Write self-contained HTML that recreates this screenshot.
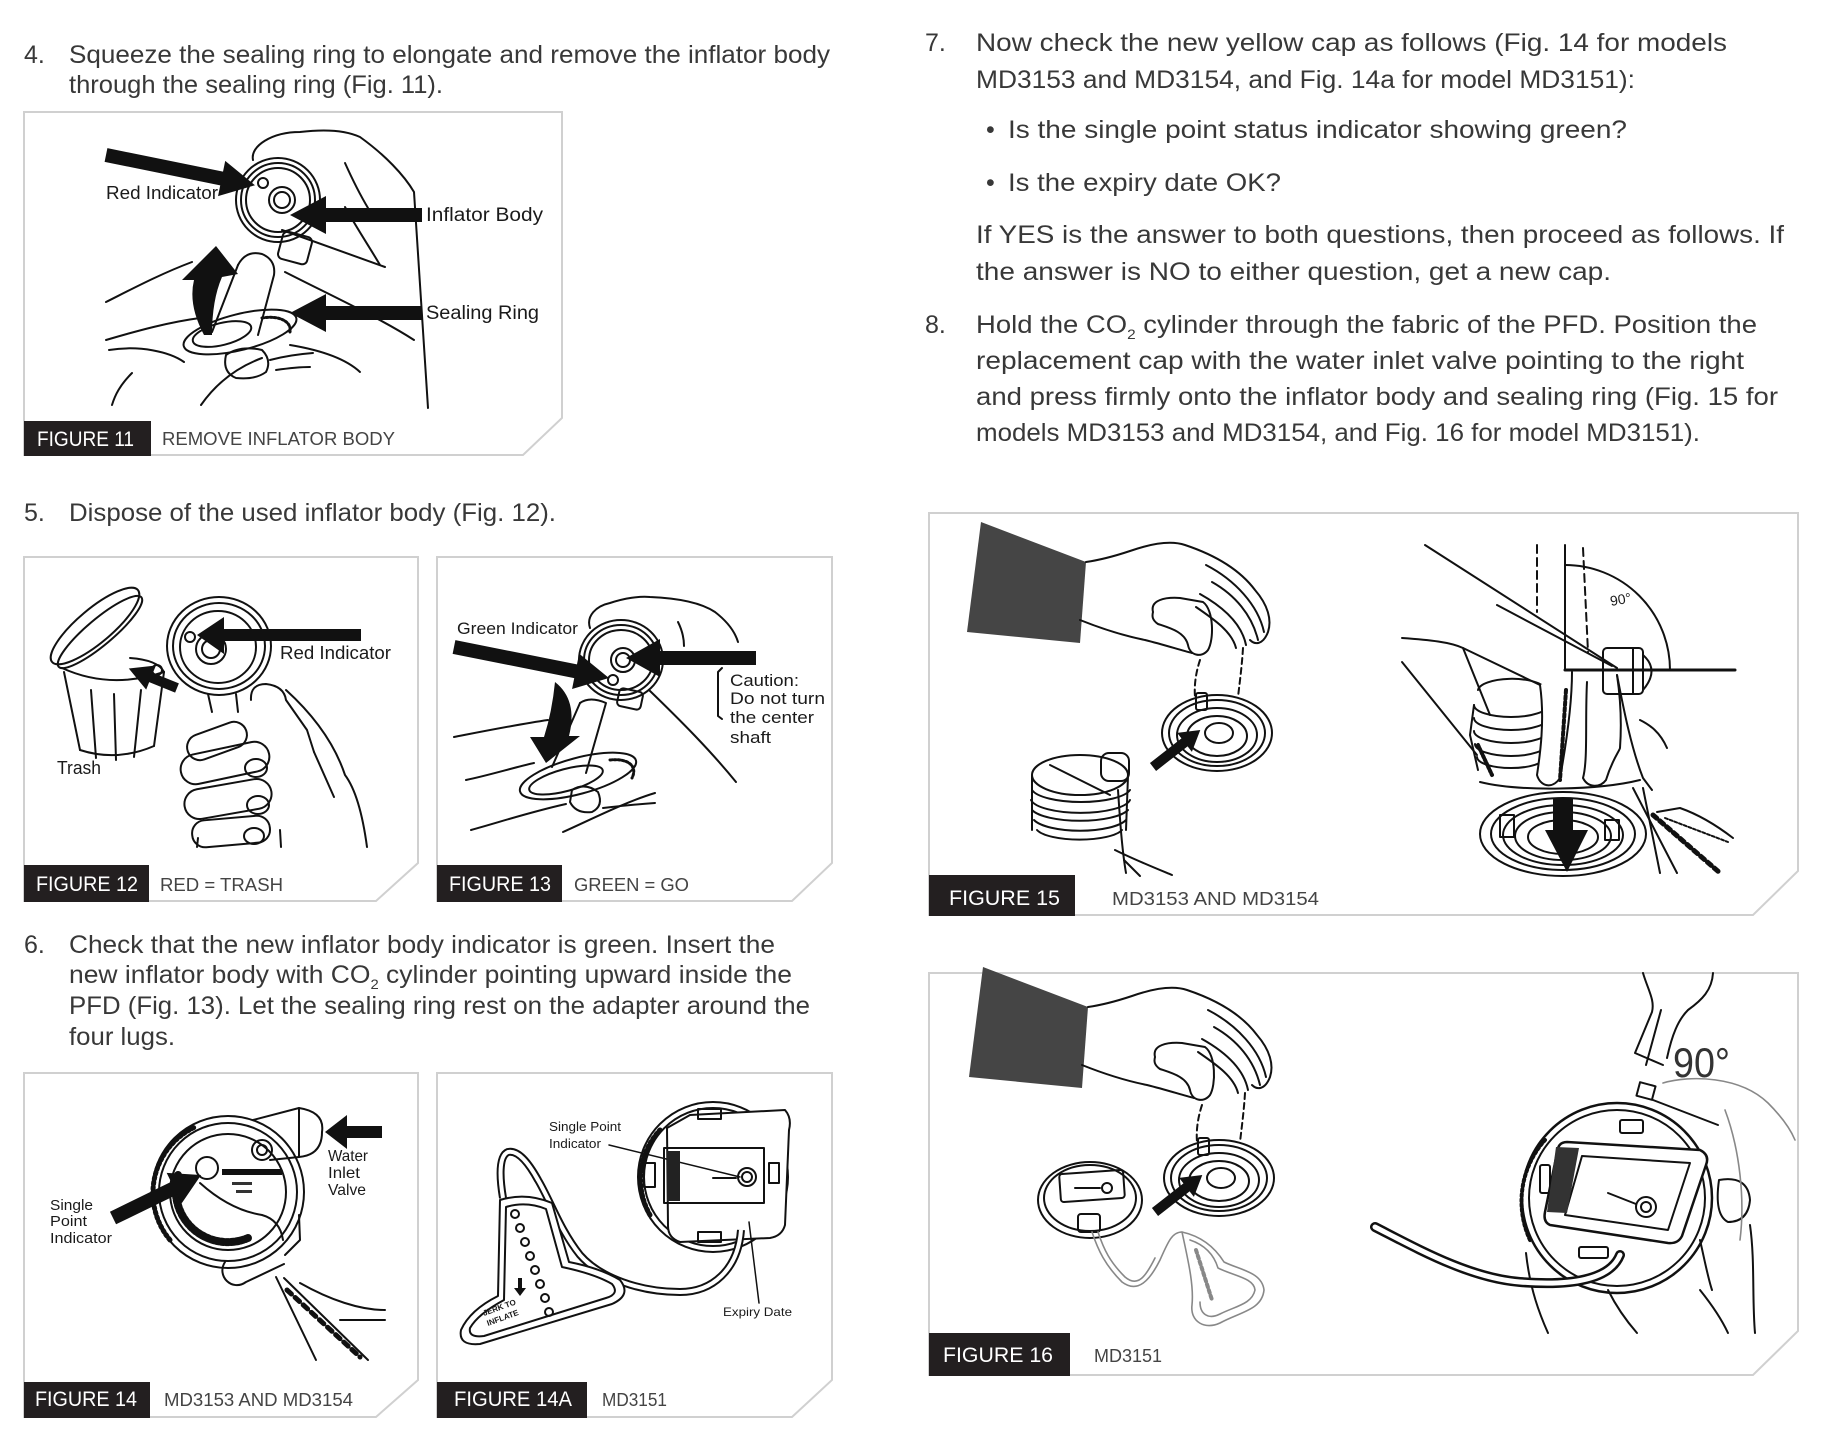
<!DOCTYPE html>
<html><head><meta charset="utf-8">
<style>
html,body{margin:0;padding:0;background:#fff;}
svg{display:block;}
.t{font-family:"Liberation Sans",sans-serif;fill:#383838;font-size:25px;}
.lb{font-family:"Liberation Sans",sans-serif;fill:#1a1a1a;}
.cap{font-family:"Liberation Sans",sans-serif;fill:#fff;font-size:21px;}
.cpt{font-family:"Liberation Sans",sans-serif;fill:#444;font-size:18px;}
.fr{fill:#fff;stroke:#d0d0d0;stroke-width:2;}
.ln{fill:none;stroke:#111;stroke-width:2;stroke-linecap:round;stroke-linejoin:round;}
.gl{fill:none;stroke:#888;stroke-width:1.6;stroke-linecap:round;stroke-linejoin:round;}
.ar{fill:#111;stroke:none;}
</style></head><body>
<svg width="1833" height="1438" viewBox="0 0 1833 1438" xmlns="http://www.w3.org/2000/svg">
<rect width="1833" height="1438" fill="#fff"/>

<!-- ================= LEFT COLUMN TEXT ================= -->
<text class="t" x="24" y="63">4.</text>
<text class="t" x="69" y="63" textLength="761" lengthAdjust="spacingAndGlyphs">Squeeze the sealing ring to elongate and remove the inflator body</text>
<text class="t" x="69" y="93" textLength="374" lengthAdjust="spacingAndGlyphs">through the sealing ring (Fig. 11).</text>

<text class="t" x="24" y="521">5.</text>
<text class="t" x="69" y="521" textLength="487" lengthAdjust="spacingAndGlyphs">Dispose of the used inflator body (Fig. 12).</text>

<text class="t" x="24" y="953">6.</text>
<text class="t" x="69" y="953" textLength="706" lengthAdjust="spacingAndGlyphs">Check that the new inflator body indicator is green. Insert the</text>
<text class="t" x="69" y="983" textLength="723" lengthAdjust="spacingAndGlyphs">new inflator body with CO<tspan font-size="14" dy="6">2</tspan><tspan dy="-6"> cylinder pointing upward inside the</tspan></text>
<text class="t" x="69" y="1014" textLength="741" lengthAdjust="spacingAndGlyphs">PFD (Fig. 13). Let the sealing ring rest on the adapter around the</text>
<text class="t" x="69" y="1045" textLength="106" lengthAdjust="spacingAndGlyphs">four lugs.</text>

<!-- ================= RIGHT COLUMN TEXT ================= -->
<text class="t" x="925" y="51">7.</text>
<text class="t" x="976" y="51" textLength="751" lengthAdjust="spacingAndGlyphs">Now check the new yellow cap as follows (Fig. 14 for models</text>
<text class="t" x="976" y="88" textLength="659" lengthAdjust="spacingAndGlyphs">MD3153 and MD3154, and Fig. 14a for model MD3151):</text>
<text class="t" x="986" y="138">•</text>
<text class="t" x="1008" y="138" textLength="619" lengthAdjust="spacingAndGlyphs">Is the single point status indicator showing green?</text>
<text class="t" x="986" y="191">•</text>
<text class="t" x="1008" y="191" textLength="273" lengthAdjust="spacingAndGlyphs">Is the expiry date OK?</text>
<text class="t" x="976" y="243" textLength="808" lengthAdjust="spacingAndGlyphs">If YES is the answer to both questions, then proceed as follows. If</text>
<text class="t" x="976" y="280" textLength="635" lengthAdjust="spacingAndGlyphs">the answer is NO to either question, get a new cap.</text>
<text class="t" x="925" y="333">8.</text>
<text class="t" x="976" y="333" textLength="781" lengthAdjust="spacingAndGlyphs">Hold the CO<tspan font-size="14" dy="6">2</tspan><tspan dy="-6"> cylinder through the fabric of the PFD. Position the</tspan></text>
<text class="t" x="976" y="369" textLength="768" lengthAdjust="spacingAndGlyphs">replacement cap with the water inlet valve pointing to the right</text>
<text class="t" x="976" y="405" textLength="802" lengthAdjust="spacingAndGlyphs">and press firmly onto the inflator body and sealing ring (Fig. 15 for</text>
<text class="t" x="976" y="441" textLength="724" lengthAdjust="spacingAndGlyphs">models MD3153 and MD3154, and Fig. 16 for model MD3151).</text>

<!-- ================= FRAMES ================= -->
<polygon class="fr" points="24,112 562,112 562,418 523,455 24,455"/>
<polygon class="fr" points="24,557 418,557 418,863 376,901 24,901"/>
<polygon class="fr" points="437,557 832,557 832,863 792,901 437,901"/>
<polygon class="fr" points="24,1073 418,1073 418,1380 376,1417 24,1417"/>
<polygon class="fr" points="437,1073 832,1073 832,1380 792,1417 437,1417"/>
<polygon class="fr" points="929,513 1798,513 1798,871 1753,915 929,915"/>
<polygon class="fr" points="929,973 1798,973 1798,1331 1753,1375 929,1375"/>

<!-- ================= LABEL BOXES ================= -->
<rect x="24" y="421" width="127" height="35" fill="#231f20"/>
<text class="cap" x="37" y="446" textLength="97" lengthAdjust="spacingAndGlyphs">FIGURE 11</text>
<text class="cpt" x="162" y="445" textLength="233" lengthAdjust="spacingAndGlyphs">REMOVE INFLATOR BODY</text>

<rect x="24" y="865" width="125" height="37" fill="#231f20"/>
<text class="cap" x="36" y="891" textLength="102" lengthAdjust="spacingAndGlyphs">FIGURE 12</text>
<text class="cpt" x="160" y="891" textLength="123" lengthAdjust="spacingAndGlyphs">RED = TRASH</text>

<rect x="437" y="865" width="125" height="37" fill="#231f20"/>
<text class="cap" x="449" y="891" textLength="102" lengthAdjust="spacingAndGlyphs">FIGURE 13</text>
<text class="cpt" x="574" y="891" textLength="115" lengthAdjust="spacingAndGlyphs">GREEN = GO</text>

<rect x="24" y="1382" width="126" height="36" fill="#231f20"/>
<text class="cap" x="35" y="1406" textLength="102" lengthAdjust="spacingAndGlyphs">FIGURE 14</text>
<text class="cpt" x="164" y="1406" textLength="189" lengthAdjust="spacingAndGlyphs">MD3153 AND MD3154</text>

<rect x="437" y="1382" width="150" height="36" fill="#231f20"/>
<text class="cap" x="454" y="1406" textLength="118" lengthAdjust="spacingAndGlyphs">FIGURE 14A</text>
<text class="cpt" x="602" y="1406" textLength="65" lengthAdjust="spacingAndGlyphs">MD3151</text>

<rect x="929" y="875" width="146" height="41" fill="#231f20"/>
<text class="cap" x="949" y="905" font-size="23" textLength="111" lengthAdjust="spacingAndGlyphs">FIGURE 15</text>
<text class="cpt" x="1112" y="905" font-size="21" fill="#555" textLength="207" lengthAdjust="spacingAndGlyphs">MD3153 AND MD3154</text>

<rect x="929" y="1333" width="141" height="43" fill="#231f20"/>
<text class="cap" x="943" y="1362" font-size="23" textLength="110" lengthAdjust="spacingAndGlyphs">FIGURE 16</text>
<text class="cpt" x="1094" y="1362" font-size="21" fill="#555" textLength="68" lengthAdjust="spacingAndGlyphs">MD3151</text>

<!-- ================= FIGURE 11 ================= -->
<g class="ln">
  <path d="M253,160 C250,146 272,132 300,132 C325,129 345,130 360,137 C385,155 404,175 414,192 L428,408"/>
  <path d="M345,163 C354,183 362,198 368,208"/>
  <path d="M345,207 C358,230 370,248 380,265"/>
  <path d="M282,230 L385,267"/>
  <path d="M285,272 C330,295 380,318 414,340"/>
  <circle cx="278" cy="200" r="42"/>
  <circle cx="278" cy="200" r="37"/>
  <circle cx="278" cy="200" r="32"/>
  <circle cx="282" cy="200" r="13"/>
  <circle cx="282" cy="200" r="8"/>
  <circle cx="263" cy="183" r="5"/>
  <rect x="280" y="234" width="30" height="28" rx="5" transform="rotate(15 295 248)"/>
  <path d="M238,265 Q246,250 262,254 Q276,260 274,275 L258,335"/>
  <path d="M238,265 L212,332"/>
  <path d="M106,302 C130,290 160,274 192,262"/>
  <path d="M106,340 C140,330 170,322 200,318"/>
  <ellipse cx="240" cy="332" rx="58" ry="18" transform="rotate(-14 240 332)"/>
  <ellipse cx="222" cy="334" rx="30" ry="11" transform="rotate(-14 222 334)"/>
  <path d="M262,318 C280,315 292,322 290,332" stroke-dasharray="2 2" stroke-width="3"/>
  <path d="M226,355 Q240,345 262,350 Q272,360 266,372 Q255,380 236,378 Q222,372 226,355 Z"/>
  <path d="M109,350 C140,345 170,352 184,362"/>
  <path d="M132,373 C120,385 115,395 112,405"/>
  <path d="M201,405 C215,385 235,368 262,358"/>
  <path d="M270,360 C285,356 300,354 313,353"/>
  <path d="M276,370 C290,368 300,367 310,367"/>
  <path d="M290,345 C320,350 345,358 360,372"/>
</g>
<polygon class="ar" points="0,-7 118,-7 118,-18 152,0 118,18 118,7 0,7" transform="translate(106,155) rotate(11.5)"/>
<polygon class="ar" points="290,215 326,196 326,208 422,208 422,222 326,222 326,234"/>
<polygon class="ar" points="290,313 326,294 326,306 422,306 422,320 326,320 326,332"/>
<path class="ar" d="M204,335 Q188,305 194,280 L182,280 L216,246 L238,274 L222,277 Q212,300 212,335 Z"/>
<text class="lb" x="106" y="199" font-size="18" textLength="112" lengthAdjust="spacingAndGlyphs">Red Indicator</text>
<text class="lb" x="426" y="221" font-size="19" textLength="117" lengthAdjust="spacingAndGlyphs">Inflator Body</text>
<text class="lb" x="426" y="319" font-size="19" textLength="113" lengthAdjust="spacingAndGlyphs">Sealing Ring</text>

<!-- ================= FIGURE 12 ================= -->
<g class="ln">
  <ellipse cx="95" cy="626" rx="56" ry="17" transform="rotate(-40 95 626)"/>
  <ellipse cx="100" cy="632" rx="54" ry="13" transform="rotate(-40 100 632)"/>
  <path d="M62,668 Q110,690 164,672"/>
  <path d="M130,658 Q158,660 164,672"/>
  <path d="M64,672 L80,750"/>
  <path d="M164,672 L154,746"/>
  <path d="M80,750 Q117,762 154,746"/>
  <path d="M91,690 L96,758"/>
  <path d="M114,694 L116,760"/>
  <path d="M141,690 L134,757"/>
  <circle cx="157" cy="670" r="5"/>
  <ellipse cx="219" cy="646" rx="52" ry="49"/>
  <ellipse cx="219" cy="646" rx="46" ry="43"/>
  <ellipse cx="218" cy="647" rx="38" ry="36"/>
  <circle cx="211" cy="649" r="15"/>
  <circle cx="211" cy="649" r="9"/>
  <circle cx="190" cy="637" r="5"/>
  <path d="M208,694 L212,712"/>
  <path d="M236,694 L238,712"/>
  <path d="M251,700 Q250,684 266,684 Q284,686 286,700 L307,730 L314,752"/>
  <path d="M314,752 L334,797"/>
  <path d="M286,690 Q330,730 345,775 Q360,795 367,847"/>
  <rect x="186" y="728" width="62" height="26" rx="13" transform="rotate(-20 217 741)"/>
  <rect x="180" y="748" width="90" height="30" rx="15" transform="rotate(-12 225 763)"/>
  <rect x="184" y="784" width="88" height="30" rx="15" transform="rotate(-10 228 799)"/>
  <rect x="192" y="818" width="78" height="27" rx="13" transform="rotate(-5 231 831)"/>
  <ellipse cx="256" cy="768" rx="11" ry="9"/>
  <ellipse cx="258" cy="805" rx="11" ry="9"/>
  <ellipse cx="254" cy="836" rx="10" ry="8"/>
  <path d="M197,847 L198,838"/>
  <path d="M281,847 L280,830"/>
</g>
<polygon class="ar" points="197,635 224,617 224,629 361,629 361,641 224,641 224,654"/>
<polygon class="ar" points="0,-5 28,-5 28,-13 52,0 28,13 28,5 0,5" transform="translate(177,688) rotate(202)"/>
<text class="lb" x="280" y="659" font-size="18" textLength="111" lengthAdjust="spacingAndGlyphs">Red Indicator</text>
<text class="lb" x="57" y="774" font-size="18" textLength="44" lengthAdjust="spacingAndGlyphs">Trash</text>

<!-- ================= FIGURE 13 ================= -->
<g class="ln">
  <path d="M590,628 C586,616 596,606 610,603 C625,598 640,596 650,597 C675,598 700,602 715,612 C728,622 735,632 738,642"/>
  <path d="M678,622 C682,630 684,638 684,646"/>
  <ellipse cx="621" cy="660" rx="42" ry="40"/>
  <ellipse cx="621" cy="660" rx="37" ry="35"/>
  <ellipse cx="621" cy="660" rx="32" ry="30"/>
  <circle cx="623" cy="660" r="12"/>
  <circle cx="623" cy="660" r="7"/>
  <circle cx="613" cy="680" r="5"/>
  <rect x="618" y="690" width="24" height="18" rx="4" transform="rotate(12 630 699)"/>
  <path d="M580,703 Q590,696 606,703 L586,773"/>
  <path d="M580,703 L552,767"/>
  <ellipse cx="578" cy="776" rx="60" ry="18" transform="rotate(-15 578 776)"/>
  <ellipse cx="566" cy="780" rx="38" ry="11" transform="rotate(-15 566 780)"/>
  <path d="M610,760 C628,758 638,766 632,778" stroke-dasharray="2 2" stroke-width="3"/>
  <path d="M466,780 C490,775 512,768 534,763"/>
  <path d="M454,737 C490,730 520,724 548,720"/>
  <path d="M649,690 C680,720 710,750 736,782"/>
  <path d="M572,790 Q585,782 598,792 Q604,806 592,812 Q576,814 570,802 Z"/>
  <path d="M471,830 C500,822 530,812 566,804"/>
  <path d="M603,808 C620,806 640,804 655,803"/>
  <path d="M563,832 C590,820 625,802 655,793"/>
  <path d="M722,668 L718,672 L718,716 L722,719"/>
</g>
<polygon class="ar" points="0,-7 124,-7 124,-18 158,0 124,18 124,7 0,7" transform="translate(454,647) rotate(11.3)"/>
<polygon class="ar" points="626,658 660,639 660,651 756,651 756,665 660,665 660,677"/>
<path class="ar" d="M555,682 Q578,700 569,736 L580,736 L546,763 L530,737 L544,737 Q552,712 555,682 Z"/>
<text class="lb" x="457" y="634" font-size="17" textLength="121" lengthAdjust="spacingAndGlyphs">Green Indicator</text>
<text class="lb" x="730" y="686" font-size="17" textLength="69" lengthAdjust="spacingAndGlyphs">Caution:</text>
<text class="lb" x="730" y="704" font-size="17" textLength="95" lengthAdjust="spacingAndGlyphs">Do not turn</text>
<text class="lb" x="730" y="723" font-size="17" textLength="84" lengthAdjust="spacingAndGlyphs">the center</text>
<text class="lb" x="730" y="743" font-size="17" textLength="41" lengthAdjust="spacingAndGlyphs">shaft</text>

<!-- ================= FIGURE 14 ================= -->
<g class="ln">
  <circle cx="228" cy="1192" r="76"/>
  <circle cx="228" cy="1192" r="69"/>
  <path d="M170,1240 A73,73 0 0 1 195,1127" stroke-width="5" stroke-dasharray="2 3"/>
  <circle cx="228" cy="1192" r="58"/>
  <path d="M178,1175 A52,52 0 0 0 248,1238" stroke-width="8" stroke-dasharray="3 2"/>
  <circle cx="207" cy="1168" r="11"/>
  <path d="M200,1183 Q230,1210 262,1215 Q280,1220 283,1240"/>
  <path d="M253,1120 L299,1108 L299,1157 L270,1160"/>
  <path d="M299,1108 Q325,1112 322,1132 Q322,1155 299,1157"/>
  <circle cx="262" cy="1150" r="10"/>
  <circle cx="262" cy="1150" r="5"/>
  <path d="M299,1215 L300,1240 L285,1255"/>
  <path d="M225,1262 C216,1276 232,1292 246,1282 L284,1264"/>
  <path d="M276,1277 L316,1360"/>
  <path d="M284,1278 L368,1360"/>
  <path d="M287,1290 L360,1357" stroke-width="5" stroke-dasharray="6 5"/>
  <path d="M300,1283 C330,1300 360,1310 385,1310"/>
  <path d="M340,1320 L385,1320"/>
</g>
<rect x="222" y="1169" width="60" height="6" fill="#111"/>
<rect x="232" y="1182" width="20" height="3" fill="#333"/>
<rect x="236" y="1190" width="16" height="3" fill="#333"/>
<polygon class="ar" points="325,1132 347,1115 347,1126 382,1126 382,1138 347,1138 347,1149"/>
<polygon class="ar" points="0,-7 68,-7 68,-17 98,0 68,17 68,7 0,7" transform="translate(113,1218) rotate(-26)"/>
<text class="lb" x="328" y="1161" font-size="16" textLength="40" lengthAdjust="spacingAndGlyphs">Water</text>
<text class="lb" x="328" y="1178" font-size="16" textLength="32" lengthAdjust="spacingAndGlyphs">Inlet</text>
<text class="lb" x="328" y="1195" font-size="16" textLength="38" lengthAdjust="spacingAndGlyphs">Valve</text>
<text class="lb" x="50" y="1210" font-size="15" textLength="43" lengthAdjust="spacingAndGlyphs">Single</text>
<text class="lb" x="50" y="1226" font-size="15" textLength="37" lengthAdjust="spacingAndGlyphs">Point</text>
<text class="lb" x="50" y="1243" font-size="15" textLength="62" lengthAdjust="spacingAndGlyphs">Indicator</text>

<!-- ================= FIGURE 14A ================= -->
<g class="ln">
  <circle cx="713" cy="1177" r="75"/>
  <circle cx="713" cy="1177" r="69"/>
  <path d="M650,1215 A72,72 0 0 1 660,1130" stroke-width="5" stroke-dasharray="2 3"/>
  <path d="M667,1128 L690,1115 L785,1110 Q792,1118 789,1130 L785,1225 Q782,1236 770,1238 L680,1242 Q668,1238 668,1226 Z" fill="#fff"/>
  <rect x="664" y="1148" width="100" height="55"/>
  <circle cx="747" cy="1177" r="9"/>
  <circle cx="747" cy="1177" r="5"/>
  <path d="M713,1178 L736,1178"/>
  <rect x="698" y="1109" width="23" height="10"/>
  <rect x="698" y="1232" width="23" height="10"/>
  <rect x="644" y="1163" width="11" height="24"/>
  <rect x="769" y="1163" width="10" height="20"/>
  <path d="M609,1145 L740,1177" stroke-width="1.5"/>
  <path d="M759,1303 L749,1222" stroke-width="1.5"/>
</g>
<rect x="667" y="1151" width="13" height="50" fill="#222"/>
<path d="M741,1230 C738,1270 712,1292 680,1292 C640,1292 600,1278 580,1255 C560,1230 550,1200 538,1180 C528,1162 518,1150 508,1152 C498,1156 500,1180 503,1198" fill="none" stroke="#111" stroke-width="8"/>
<path d="M741,1230 C738,1270 712,1292 680,1292 C640,1292 600,1278 580,1255 C560,1230 550,1200 538,1180 C528,1162 518,1150 508,1152 C498,1156 500,1180 503,1198" fill="none" stroke="#fff" stroke-width="4"/>
<g class="ln">
  <path d="M500,1200 Q526,1192 552,1203 L569,1262 Q600,1268 620,1280 Q632,1295 612,1304 L480,1344 Q458,1346 461,1330 Q470,1310 498,1296 Z" fill="#fff"/>
  <path d="M506,1207 Q526,1201 546,1209 L562,1267 Q595,1274 612,1284 Q620,1294 606,1298 L484,1336 Q468,1338 470,1328 Q478,1314 504,1300 Z"/>
  <circle cx="515" cy="1214" r="4"/><circle cx="520" cy="1228" r="4"/>
  <circle cx="525" cy="1242" r="4"/><circle cx="530" cy="1256" r="4"/>
  <circle cx="535" cy="1270" r="4"/><circle cx="540" cy="1284" r="4"/>
  <circle cx="545" cy="1298" r="4"/><circle cx="549" cy="1312" r="4"/>
</g>
<path class="ar" d="M518,1278 L522,1278 L522,1288 L526,1288 L520,1296 L514,1288 L518,1288 Z"/>
<text class="lb" x="484" y="1316" font-size="8" font-weight="bold" transform="rotate(-20 484 1316)">JERK TO</text>
<text class="lb" x="488" y="1326" font-size="8" font-weight="bold" transform="rotate(-20 488 1326)">INFLATE</text>
<text class="lb" x="549" y="1131" font-size="13" textLength="72" lengthAdjust="spacingAndGlyphs">Single Point</text>
<text class="lb" x="549" y="1148" font-size="13" textLength="52" lengthAdjust="spacingAndGlyphs">Indicator</text>
<text class="lb" x="723" y="1316" font-size="12" textLength="69" lengthAdjust="spacingAndGlyphs">Expiry Date</text>

<!-- ================= FIGURE 15 ================= -->
<g id="h15">
  <polygon points="981,522 1086,562 1080,643 967,632" fill="#454545"/>
  <g class="ln">
    <path d="M1086,562 C1100,560 1112,557 1130,551 C1150,544 1170,540 1185,545 C1215,555 1240,570 1255,590 C1268,605 1272,620 1268,632 C1263,645 1255,645 1250,640"/>
    <path d="M1206,565 C1235,580 1258,605 1264,632"/>
    <path d="M1212,582 C1235,595 1252,615 1258,640"/>
    <path d="M1200,594 C1225,608 1242,625 1246,645"/>
    <path d="M1196,607 C1215,620 1232,632 1236,648"/>
    <path d="M1080,620 C1100,628 1120,635 1145,640 C1165,645 1180,650 1192,653"/>
    <path d="M1153,612 C1150,600 1165,597 1180,598 L1203,602 C1214,610 1214,640 1208,650 C1202,658 1190,656 1188,645 C1185,632 1170,628 1158,624 C1152,620 1152,616 1153,612 Z"/>
    <path d="M1200,660 C1196,672 1194,685 1195,697" stroke-dasharray="6 4"/>
    <path d="M1243,648 C1242,665 1240,680 1238,697" stroke-dasharray="6 4"/>
    <ellipse cx="1217" cy="733" rx="55" ry="38"/>
    <ellipse cx="1217" cy="733" rx="48" ry="33"/>
    <ellipse cx="1217" cy="735" rx="40" ry="27"/>
    <ellipse cx="1217" cy="736" rx="30" ry="20"/>
    <ellipse cx="1219" cy="733" rx="14" ry="10"/>
    <rect x="1196" y="693" width="11" height="17" rx="2"/>
  </g>
  <polygon class="ar" points="0,-5 40,-5 40,-12 60,0 40,12 40,5 0,5" transform="translate(1153,767) rotate(-38)"/>
</g>
<g class="ln">
  <ellipse cx="1080" cy="775" rx="48" ry="20"/>
  <path d="M1032,790 A50,15 0 0 0 1130,790"/>
  <path d="M1031,800 A50,15 0 0 0 1130,800"/>
  <path d="M1032,810 A50,15 0 0 0 1128,810"/>
  <path d="M1034,820 A48,15 0 0 0 1126,820"/>
  <path d="M1037,830 A44,13 0 0 0 1122,830"/>
  <path d="M1032,776 L1032,830"/>
  <path d="M1128,776 L1126,830"/>
  <rect x="1101" y="753" width="28" height="28" rx="8"/>
  <path d="M1050,765 L1110,795" />
  <path d="M1118,790 C1120,820 1122,850 1126,873"/>
  <path d="M1115,850 C1135,860 1160,870 1172,875"/>
  <path d="M1124,860 L1140,876"/>
  <!-- right part -->
  <path d="M1425,545 L1617,668"/>
  <path d="M1497,605 L1612,666"/>
  <path d="M1565,545 L1565,670"/>
  <path d="M1565,670 L1735,670" stroke-width="3"/>
  <path d="M1565,565 A105,105 0 0 1 1670,670"/>
  <path d="M1537,545 L1537,612" stroke-dasharray="8 5"/>
  <path d="M1583,548 L1588,652" stroke-dasharray="8 5"/>
  <!-- hand -->
  <path d="M1402,638 C1430,640 1450,642 1463,648 L1540,685"/>
  <path d="M1402,662 L1477,755"/>
  <path d="M1463,648 L1490,715"/>
  <!-- ribbed cap -->
  <path d="M1478,690 A34,12 0 0 1 1545,688"/>
  <path d="M1474,705 A37,12 0 0 0 1548,705"/>
  <path d="M1474,718 A37,12 0 0 0 1548,718"/>
  <path d="M1474,731 A37,12 0 0 0 1548,731"/>
  <path d="M1475,744 A36,12 0 0 0 1547,744"/>
  <path d="M1477,757 A34,11 0 0 0 1545,757"/>
  <path d="M1474,705 L1470,735 L1478,770"/>
  <path d="M1478,745 L1492,775" stroke-width="4" stroke-dasharray="2 2"/>
  <!-- fingers -->
  <path d="M1540,685 C1545,720 1540,755 1537,775 C1540,786 1552,790 1560,778 C1566,745 1572,705 1572,672" fill="#fff"/>
  <path d="M1587,682 C1585,720 1588,760 1583,778 C1588,788 1600,788 1606,780 C1612,760 1620,750 1620,748 C1622,720 1620,695 1617,675" fill="#fff"/>
  <path d="M1566,690 L1560,780" stroke-width="4" stroke-dasharray="3 3"/>
  <!-- nozzle -->
  <rect x="1603" y="648" width="40" height="46" rx="4"/>
  <path d="M1633,648 L1633,694"/>
  <path d="M1643,655 Q1660,670 1643,690"/>
  <path d="M1617,675 C1622,700 1630,745 1643,778 L1652,790"/>
  <path d="M1640,720 C1650,725 1660,732 1667,748"/>
  <path d="M1480,782 C1520,792 1600,790 1640,780"/>
  <!-- base ring -->
  <ellipse cx="1563" cy="834" rx="83" ry="42"/>
  <ellipse cx="1563" cy="834" rx="72" ry="36"/>
  <ellipse cx="1563" cy="835" rx="60" ry="30"/>
  <ellipse cx="1563" cy="836" rx="48" ry="24"/>
  <ellipse cx="1563" cy="837" rx="35" ry="17"/>
  <rect x="1500" y="815" width="14" height="22"/>
  <rect x="1605" y="820" width="14" height="20"/>
  <!-- lanyard -->
  <path d="M1633,788 L1677,873"/>
  <path d="M1643,788 L1660,873"/>
  <path d="M1653,815 L1720,873" stroke-width="5" stroke-dasharray="5 4"/>
  <path d="M1657,812 L1680,808 C1700,815 1720,828 1733,838"/>
  <path d="M1665,818 L1728,842" stroke-dasharray="3 2"/>
</g>
<polygon class="ar" points="1553,798 1573,798 1573,830 1588,830 1567,872 1545,830 1553,830"/>
<text class="lb" x="1611" y="606" font-size="14" fill="#444" transform="rotate(-10 1611 606)">90°</text>

<!-- ================= FIGURE 16 ================= -->
<use href="#h15" transform="translate(2,445)"/>
<g class="ln">
  <ellipse cx="1090" cy="1200" rx="52" ry="38"/>
  <ellipse cx="1090" cy="1198" rx="46" ry="33"/>
  <rect x="1060" y="1172" width="64" height="28" rx="3" transform="rotate(-4 1092 1186)"/>
  <circle cx="1107" cy="1188" r="5"/>
  <path d="M1075,1188 L1100,1188"/>
  <rect x="1078" y="1214" width="22" height="18" rx="3"/>
</g>
<g class="gl">
  <path d="M1092,1232 C1098,1250 1105,1265 1122,1282 C1138,1294 1150,1280 1160,1260 C1168,1242 1172,1232 1182,1232"/>
  <path d="M1098,1232 C1104,1250 1110,1262 1125,1277 C1138,1288 1146,1276 1155,1258"/>
  <path d="M1182,1232 C1200,1236 1214,1246 1224,1262 C1240,1270 1262,1272 1264,1290 C1262,1310 1240,1312 1220,1323 C1205,1330 1190,1322 1192,1305 C1194,1285 1188,1260 1182,1232 Z"/>
  <path d="M1190,1240 C1205,1245 1214,1255 1218,1268 C1234,1276 1254,1278 1255,1290 C1252,1304 1236,1306 1220,1314 C1208,1320 1200,1314 1200,1302"/>
  <path d="M1196,1250 L1212,1300" stroke-width="4" stroke-dasharray="3 3"/>
</g>
<!-- right part of fig 16 -->
<g class="ln">
  <circle cx="1617" cy="1198" r="95" stroke-width="2.5"/>
  <circle cx="1617" cy="1198" r="88"/>
  <path d="M1530,1240 A92,92 0 0 1 1545,1140" stroke-width="4" stroke-dasharray="2 3"/>
  <path d="M1567,1142 L1700,1150 Q1710,1155 1706,1165 L1682,1236 Q1678,1244 1668,1243 L1550,1225 Q1543,1222 1545,1212 L1558,1148 Q1560,1142 1567,1142 Z" fill="#fff" stroke-width="2.5"/>
  <path d="M1582,1156 L1690,1163 L1668,1230 L1565,1215 Z"/>
  <circle cx="1646" cy="1207" r="10"/>
  <circle cx="1646" cy="1207" r="5"/>
  <path d="M1608,1193 L1636,1204"/>
  <rect x="1620" y="1120" width="23" height="13" rx="2"/>
  <rect x="1579" y="1247" width="29" height="11" rx="2"/>
  <rect x="1540" y="1165" width="10" height="28" rx="2"/>
  <path d="M1643,973 C1648,990 1655,1000 1652,1012 L1635,1053 L1663,1065"/>
  <path d="M1713,973 C1712,990 1702,1000 1688,1010 C1678,1020 1672,1035 1667,1058"/>
  <path d="M1661,1010 L1646,1065"/>
  <rect x="1638" y="1084" width="16" height="14" transform="rotate(15 1646 1091)"/>
  <path d="M1653,1100 L1718,1125"/>
  <path d="M1719,1180 Q1748,1175 1750,1200 Q1748,1222 1728,1222 Q1714,1215 1719,1180 Z"/>
  <path d="M1526,1253 C1530,1290 1540,1315 1548,1333"/>
  <path d="M1608,1290 C1618,1310 1630,1325 1637,1333"/>
  <path d="M1700,1290 C1712,1305 1722,1320 1728,1333"/>
  <path d="M1750,1225 C1755,1260 1752,1300 1755,1333"/>
  <path d="M1700,1240 C1705,1262 1708,1278 1712,1290"/>
</g>
<g class="gl">
  <path d="M1663,1083 C1690,1075 1740,1076 1768,1103 C1780,1115 1790,1128 1795,1140"/>
  <path d="M1725,1110 C1740,1150 1745,1200 1740,1240"/>
</g>
<path d="M1375,1227 C1420,1250 1470,1278 1520,1282 C1570,1286 1610,1280 1620,1255" fill="none" stroke="#111" stroke-width="10" stroke-linecap="round"/>
<path d="M1375,1227 C1420,1250 1470,1278 1520,1282 C1570,1286 1610,1280 1620,1255" fill="none" stroke="#fff" stroke-width="5" stroke-linecap="round"/>
<polygon points="1556,1147 1579,1148 1567,1213 1547,1212" fill="#333"/>
<text x="1673" y="1077" font-family="Liberation Sans, sans-serif" font-size="42" fill="#333" textLength="57" lengthAdjust="spacingAndGlyphs">90°</text>

</svg>
</body></html>
